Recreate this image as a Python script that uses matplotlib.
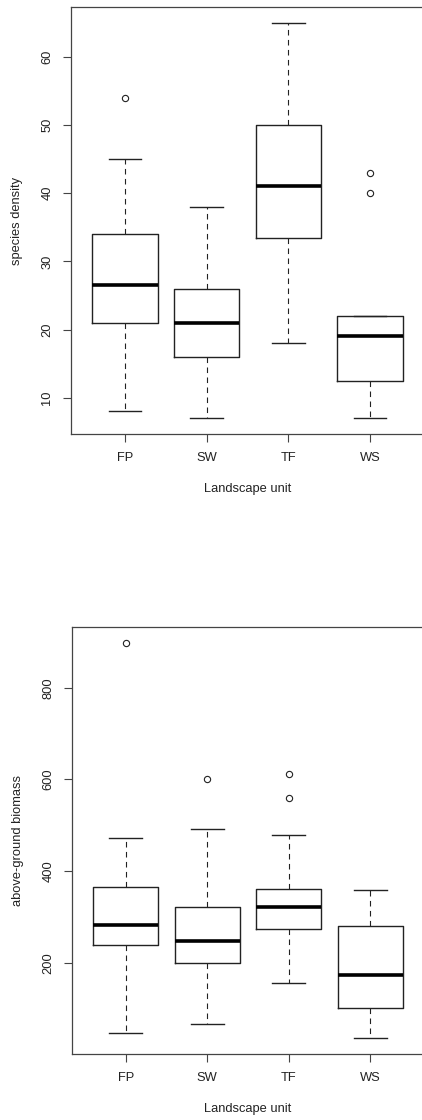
import matplotlib
matplotlib.use("Agg")
import matplotlib.pyplot as plt

# --- DATA ---
UNITS = ["FP", "SW", "TF", "WS"]

# species density: lower whisker, Q1, median, Q3, upper whisker
DENS_LO = [8, 7, 18, 7]
DENS_Q1 = [21, 16, 33.5, 12.5]
DENS_MED = [26.5, 21, 41, 19]
DENS_Q3 = [34, 26, 50, 22]
DENS_HI = [45, 38, 65, 22]
DENS_OUT = [[54], [], [], [40, 43]]
DENS_TICKS = [10, 20, 30, 40, 50, 60]

# above-ground biomass
BIO_LO = [47, 68, 157, 36]
BIO_Q1 = [239, 200, 273, 101]
BIO_MED = [282, 247, 321, 174]
BIO_Q3 = [366, 321, 361, 281]
BIO_HI = [473, 493, 478, 359]
BIO_OUT = [[898], [600], [559, 613], []]
BIO_TICKS = [200, 400, 600, 800]

plt.rcParams["font.family"] = ["Liberation Sans", "DejaVu Sans"]

W, H = 422, 1120
fig = plt.figure(figsize=(W / 100, H / 100), dpi=100)


def r_boxplot(rect, lo, q1, med, q3, hi, out, ticks, ylabel):
    ax = fig.add_axes(rect)
    stats = []
    for i, name in enumerate(UNITS):
        stats.append(dict(label=name, whislo=lo[i], q1=q1[i], med=med[i],
                          q3=q3[i], whishi=hi[i], fliers=out[i]))
    ax.bxp(stats, positions=range(1, len(UNITS) + 1), widths=0.8,
           showfliers=True,
           boxprops=dict(color="#222222", linewidth=1.0),
           medianprops=dict(color="black", linewidth=2.6, solid_capstyle="butt"),
           whiskerprops=dict(color="#222222", linewidth=0.8, linestyle=(0, (5, 4))),
           capprops=dict(color="#222222", linewidth=1.0),
           capwidths=0.4,
           flierprops=dict(marker="o", markersize=4.5, markerfacecolor="none",
                           markeredgecolor="#222222", markeredgewidth=0.8))
    # R style limits: 4% extension of the data range
    allv = lo + hi + [v for o in out for v in o]
    vmin, vmax = min(allv), max(allv)
    pad = 0.04 * (vmax - vmin)
    ax.set_ylim(vmin - pad, vmax + pad)
    ax.set_xlim(0.34, 4.66)
    ax.set_yticks(ticks)
    ax.set_yticklabels([str(t) for t in ticks], rotation=90, va="center")
    ax.set_xticks(range(1, len(UNITS) + 1))
    ax.set_xticklabels(UNITS)
    ax.tick_params(direction="out", length=5.8, width=0.8, color="#444444",
                   labelsize=9.3, labelcolor="#222222", pad=7)
    for s in ax.spines.values():
        s.set_color("#444444")
        s.set_linewidth(0.9)
    ax.set_xlabel("Landscape unit", fontsize=9.3, color="#222222", labelpad=14)
    ax.set_ylabel(ylabel, fontsize=9.3, color="#222222", labelpad=13)
    return ax


# top: axes from x=71..424, y=7..434
r_boxplot([71 / W, 1 - 434 / H, 353 / W, 427 / H],
          DENS_LO, DENS_Q1, DENS_MED, DENS_Q3, DENS_HI, DENS_OUT,
          DENS_TICKS, "species density")
# bottom: axes from x=72..424, y=627..1054
r_boxplot([72 / W, 1 - 1054 / H, 352 / W, 427 / H],
          BIO_LO, BIO_Q1, BIO_MED, BIO_Q3, BIO_HI, BIO_OUT,
          BIO_TICKS, "above-ground biomass")

fig.savefig("out.png", dpi=100)
